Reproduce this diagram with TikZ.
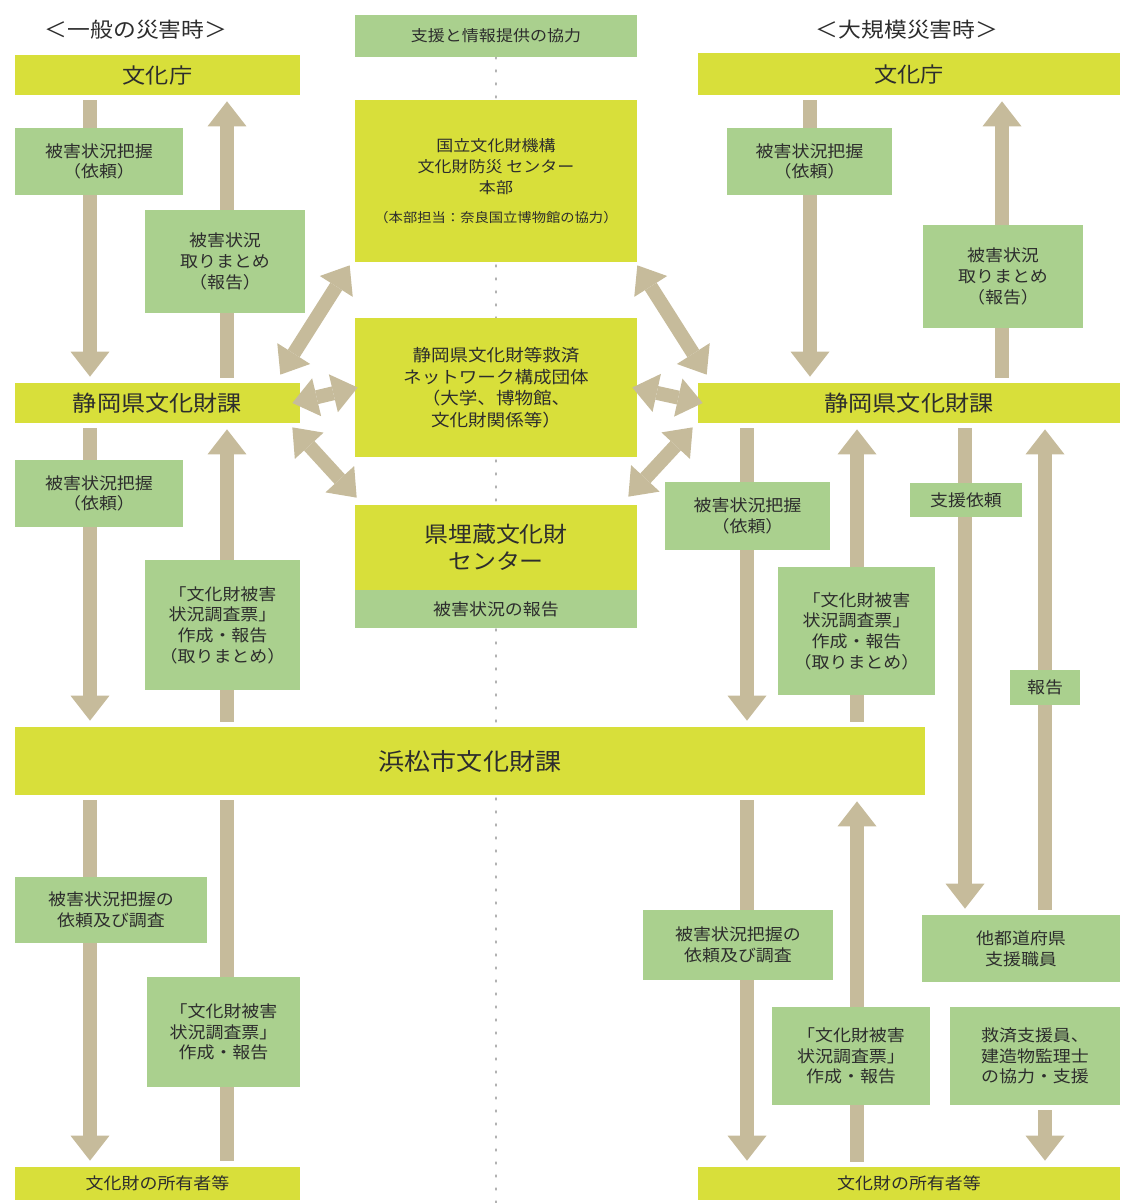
\documentclass[tikz,border=0pt]{standalone}
\usepackage{fontspec}
\setmainfont[FakeStretch=1.1]{Noto Sans CJK JP}
\usepackage{xcolor}
\usetikzlibrary{arrows.meta,calc,backgrounds}
\definecolor{ylw}{RGB}{216,223,58}
\definecolor{grn}{RGB}{170,208,142}
\definecolor{arrowtan}{RGB}{198,187,155}
\definecolor{txt}{RGB}{45,45,45}

\begin{document}
\begin{tikzpicture}[x=0.02cm,y=-0.02cm,
  ybox/.style={fill=ylw,text=txt,inner sep=0pt,align=center,font=\fontsize{12}{14}\selectfont},
  gbox/.style={fill=grn,text=txt,inner sep=0pt,align=center,font=\fontsize{9.3}{11.8}\selectfont},
  flow/.style={draw=arrowtan,line width=0.28cm,shorten <=0.1cm,shorten >=0.12cm},
  onehead/.style={-{Triangle[width=0.78cm,length=0.5cm,line width=0pt]}},
  link/.style={draw=arrowtan,line width=0.28cm,{Triangle[width=0.78cm,length=0.5cm,line width=0pt]}-{Triangle[width=0.78cm,length=0.5cm,line width=0pt]}},
  dotline/.style={draw=gray!60,line width=1.6pt,dash pattern=on 0.6pt off 6.8pt,line cap=round}]
\useasboundingbox (0,0) rectangle (1120,1203);
%%%COLUMNS
\coordinate (colA) at (90,0);
\coordinate (colB) at (227,0);
\coordinate (colC) at (810,0);
\coordinate (colD) at (1002,0);
\coordinate (colE) at (747,0);
\coordinate (colF) at (857,0);
\coordinate (colG) at (965,0);
\coordinate (colH) at (1045,0);
\coordinate (axisEnd) at (496,1203);
%%%TITLES
\node[text=txt,font=\fontsize{11.8}{14}\selectfont] (titleL) at (136,30) {＜一般の災害時＞};
\node[text=txt,font=\fontsize{11.8}{14}\selectfont] (titleR) at (907,30) {＜大規模災害時＞};
%%%LEFT SIDE
\node[ybox,minimum width=5.7cm,minimum height=0.8cm] (bunkaL) at (157.5,75) {文化庁};
\node[gbox,minimum width=3.36cm,minimum height=1.34cm] (haakuL1) at (99,161.5) {被害状況把握\\（依頼）};
\node[gbox,minimum width=3.2cm,minimum height=2.06cm] (matomeL) at (225,261.5) {被害状況\\取りまとめ\\（報告）};
\node[ybox,minimum width=5.7cm,minimum height=0.8cm,font=\fontsize{12.5}{14}\selectfont] (shizL) at (157.5,403) {静岡県文化財課};
\node[gbox,minimum width=3.36cm,minimum height=1.34cm] (haakuL2) at (99,493.5) {被害状況把握\\（依頼）};
\node[gbox,minimum width=3.1cm,minimum height=2.6cm] (chosaL1) at (222.5,625) {「文化財被害\\状況調査票」\\作成・報告\\（取りまとめ）};
\node[ybox,minimum width=18.2cm,minimum height=1.36cm,font=\fontsize{13.5}{15}\selectfont] (hama) at (470,761) {浜松市文化財課};
\node[gbox,minimum width=3.84cm,minimum height=1.32cm] (iraiL) at (111,910) {被害状況把握の\\依頼及び調査};
\node[gbox,minimum width=3.06cm,minimum height=2.2cm] (chosaL2) at (223.5,1032) {「文化財被害\\状況調査票」\\作成・報告};
\node[ybox,minimum width=5.7cm,minimum height=0.66cm,font=\fontsize{9.3}{11}\selectfont] (ownerL) at (157.5,1183.5) {文化財の所有者等};
%%%CENTER
\node[gbox,minimum width=5.64cm,minimum height=0.84cm,font=\fontsize{8.8}{11}\selectfont] (kyoryoku) at (496,36) {支援と情報提供の協力};
\node[ybox,minimum width=5.64cm,minimum height=3.24cm,font=\fontsize{8.8}{12}\selectfont] (kokuritsu) at (496,181) {国立文化財機構\\文化財防災 センター\\本部\\[4pt]{\fontsize{7.4}{9}\selectfont （本部担当：奈良国立博物館の協力）}};
\node[ybox,minimum width=5.64cm,minimum height=2.78cm,font=\fontsize{9.6}{12.3}\selectfont] (network) at (496,387.5) {静岡県文化財等救済\\ネットワーク構成団体\\（大学、博物館、\\文化財関係等）};
\node[ybox,minimum width=5.64cm,minimum height=1.7cm,font=\fontsize{12.4}{15}\selectfont] (maizo) at (496,547.5) {県埋蔵文化財\\センター};
\node[gbox,minimum width=5.64cm,minimum height=0.76cm] (maizoRep) at (496,609) {被害状況の報告};
%%%RIGHT SIDE
\node[ybox,minimum width=8.44cm,minimum height=0.84cm] (bunkaR) at (909,74) {文化庁};
\node[gbox,minimum width=3.3cm,minimum height=1.34cm] (haakuR1) at (809.5,161.5) {被害状況把握\\（依頼）};
\node[gbox,minimum width=3.2cm,minimum height=2.06cm] (matomeR) at (1003,276.5) {被害状況\\取りまとめ\\（報告）};
\node[ybox,minimum width=8.44cm,minimum height=0.8cm,font=\fontsize{12.5}{14}\selectfont] (shizR) at (909,403) {静岡県文化財課};
\node[gbox,minimum width=3.3cm,minimum height=1.36cm] (haakuR2) at (747.5,516) {被害状況把握\\（依頼）};
\node[gbox,minimum width=2.24cm,minimum height=0.68cm] (shienIrai) at (966,500) {支援依頼};
\node[gbox,minimum width=3.14cm,minimum height=2.56cm] (chosaR1) at (856.5,631) {「文化財被害\\状況調査票」\\作成・報告\\（取りまとめ）};
\node[gbox,minimum width=1.4cm,minimum height=0.7cm] (hokoku) at (1045,687.5) {報告};
\node[gbox,minimum width=3.8cm,minimum height=1.4cm] (iraiR) at (738,945) {被害状況把握の\\依頼及び調査};
\node[gbox,minimum width=3.96cm,minimum height=1.34cm] (tato) at (1021,948.5) {他都道府県\\支援職員};
\node[gbox,minimum width=3.16cm,minimum height=1.96cm] (chosaR2) at (851,1056) {「文化財被害\\状況調査票」\\作成・報告};
\node[gbox,minimum width=3.4cm,minimum height=1.96cm] (kyusai) at (1035,1056) {救済支援員、\\建造物監理士\\の協力・支援};
\node[ybox,minimum width=8.44cm,minimum height=0.66cm,font=\fontsize{9.3}{11}\selectfont] (ownerR) at (909,1183.5) {文化財の所有者等};
%%%FLOWS
\begin{scope}[on background layer]
\draw[dotline] (kyoryoku.south) -- (axisEnd);
% left
\draw[flow,onehead] (bunkaL.south -| colA) -- (shizL.north -| colA);
\draw[flow,onehead] (shizL.north -| colB) -- (bunkaL.south -| colB);
\draw[flow,onehead] (shizL.south -| colA) -- (hama.north -| colA);
\draw[flow,onehead] (hama.north -| colB) -- (shizL.south -| colB);
\draw[flow,onehead] (hama.south -| colA) -- (ownerL.north -| colA);
\draw[flow] (hama.south -| colB) -- (ownerL.north -| colB);
% right
\draw[flow,onehead] (bunkaR.south -| colC) -- (shizR.north -| colC);
\draw[flow,onehead] (shizR.north -| colD) -- (bunkaR.south -| colD);
\draw[flow,onehead] (shizR.south -| colE) -- (hama.north -| colE);
\draw[flow,onehead] (hama.north -| colF) -- (shizR.south -| colF);
\draw[flow,onehead] (shizR.south -| colG) -- (tato.north -| colG);
\draw[flow,onehead] (tato.north -| colH) -- (shizR.south -| colH);
\draw[flow,onehead] (hama.south -| colE) -- (ownerR.north -| colE);
\draw[flow,onehead] (ownerR.north -| colF) -- (hama.south -| colF);
\draw[flow,onehead] (kyusai.south -| colH) -- (ownerR.north -| colH);
\end{scope}
%%%NETWORK LINKS
\draw[link] ($(shizL.north east)+(-20,-8)$) -- ($(kokuritsu.south west)+(-5,3)$);
\draw[link] ($(shizL.east)+(-8,0)$) -- ($(network.west)+(3,0)$);
\draw[link] ($(shizL.south east)+(-8,4)$) -- ($(maizo.north west)+(2,-7)$);
\draw[link] ($(kokuritsu.south east)+(0,3)$) -- ($(shizR.north west)+(9,-8)$);
\draw[link] ($(network.east)+(-5,0)$) -- ($(shizR.west)+(5,0)$);
\draw[link] ($(shizR.south west)+(-5,4)$) -- ($(maizo.north east)+(-9,-8)$);
\end{tikzpicture}
\end{document}
